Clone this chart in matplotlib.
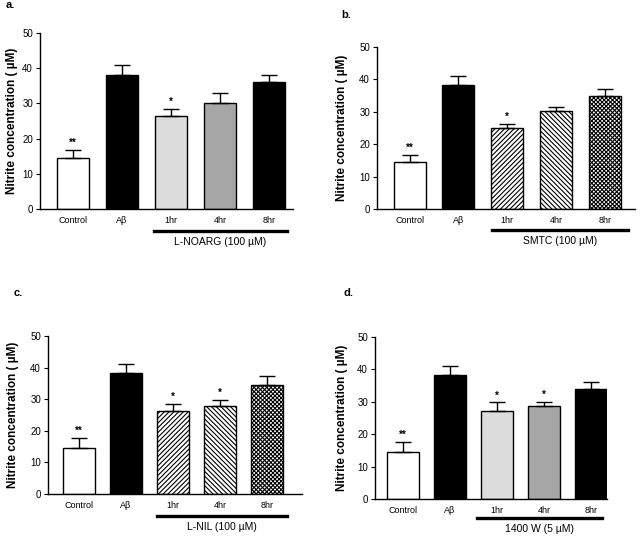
import matplotlib
matplotlib.use("Agg")
import matplotlib.pyplot as plt

plt.rcParams['font.family'] = ['Liberation Sans', 'DejaVu Sans']
plt.rcParams['hatch.linewidth'] = 0.8

groups = ["Control", "Aβ", "1hr", "4hr", "8hr"]

means_a = [14.5, 38.2, 26.3, 30.0, 36.0]
err_a = [2.2, 2.8, 2.0, 3.0, 2.0]
stars_a = ["**", "", "*", "", ""]

means_b = [14.5, 38.2, 25.1, 30.1, 35.0]
err_b = [2.3, 2.8, 1.1, 1.5, 2.0]
stars_b = ["**", "", "*", "", ""]

means_c = [14.5, 38.2, 26.3, 27.8, 34.5]
err_c = [3.2, 2.8, 2.2, 2.0, 2.8]
stars_c = ["**", "", "*", "*", ""]

means_d = [14.5, 38.2, 27.2, 28.6, 34.0]
err_d = [3.1, 2.8, 2.6, 1.4, 2.0]
stars_d = ["**", "", "*", "*", ""]

W, H = 640, 536
fig = plt.figure(figsize=(6.4, 5.36), dpi=100)

# face colours / hatches per panel
style_gray = [("white", ""), ("black", ""), ("#dcdcdc", ""), ("#a6a6a6", ""), ("black", "")]
style_hatch = [("white", ""), ("black", ""), ("white", "///////"), ("white", "\\\\\\\\\\\\\\"), ("white", "xxxxxxxx")]

panels = [
    # letter, means, err, stars, styles, treatment label, (left, right, top, bottom px), center0, step, letter pos, ylabel x, line px, label y px
    ("a.", means_a, err_a, stars_a, style_gray, "L-NOARG (100 µM)", (40, 293, 33, 209), 73, 49.0, (6, 5), 12, (154, 287, 231), 242),
    ("b.", means_b, err_b, stars_b, style_hatch, "SMTC (100 µM)", (377, 635, 47, 209), 409.5, 48.9, (341, 15), 342, (492, 628, 230), 241),
    ("c.", means_c, err_c, stars_c, style_hatch, "L-NIL (100 µM)", (48, 302, 336, 494), 79, 47.1, (14, 293), 13, (157, 287, 516), 527),
    ("d.", means_d, err_d, stars_d, style_gray, "1400 W (5 µM)", (375, 607, 337, 499), 403, 47.0, (344, 293), 342, (477, 602, 518), 529),
]

for letter, m, e, st, styles, treat, (l, r, t, b), c0, step, lpos, ylx, (lx0, lx1, ly), laby in panels:
    ax = fig.add_axes([l / W, 1 - b / H, (r - l) / W, (b - t) / H])
    x = list(range(len(groups)))
    width = 32 / step
    for i in x:
        fc, hatch = styles[i]
        ax.bar(i, m[i], width=width, color=fc, edgecolor="black", linewidth=1.0, hatch=hatch, zorder=2)
        ax.errorbar(i, m[i], yerr=[[0], [e[i]]], fmt="none", ecolor="black", elinewidth=1.0,
                    capsize=5.5, capthick=1.0, zorder=3)
        if st[i]:
            ax.text(i, m[i] + e[i] + 0.6, st[i], ha="center", va="bottom", fontsize=7, fontweight="bold")
    ax.set_xlim((l - c0) / step, (r - c0) / step)
    ax.set_ylim(0, 50)
    ax.set_yticks([0, 10, 20, 30, 40, 50])
    ax.set_xticks(x)
    ax.set_xticklabels(groups, fontsize=6.5)
    ax.tick_params(axis="x", length=0, pad=5)
    ax.tick_params(axis="y", labelsize=7, length=3, width=0.8, pad=2)
    for s in ["top", "right"]:
        ax.spines[s].set_visible(False)
    for s in ["left", "bottom"]:
        ax.spines[s].set_linewidth(1.0)

    fig.text(ylx / W, 1 - (t + b) / 2 / H, "Nitrite concentration ( µM)", rotation=90,
             ha="center", va="center", fontsize=8.5, fontweight="bold")
    fig.text(lpos[0] / W, 1 - lpos[1] / H, letter, ha="left", va="center", fontsize=8, fontweight="bold")
    fig.add_artist(plt.Line2D([lx0 / W, lx1 / W], [1 - ly / H, 1 - ly / H], color="black", linewidth=2.4))
    fig.text((lx0 + lx1) / 2 / W, 1 - laby / H, treat, ha="center", va="center", fontsize=7.5)

fig.savefig("out.png", dpi=100)
